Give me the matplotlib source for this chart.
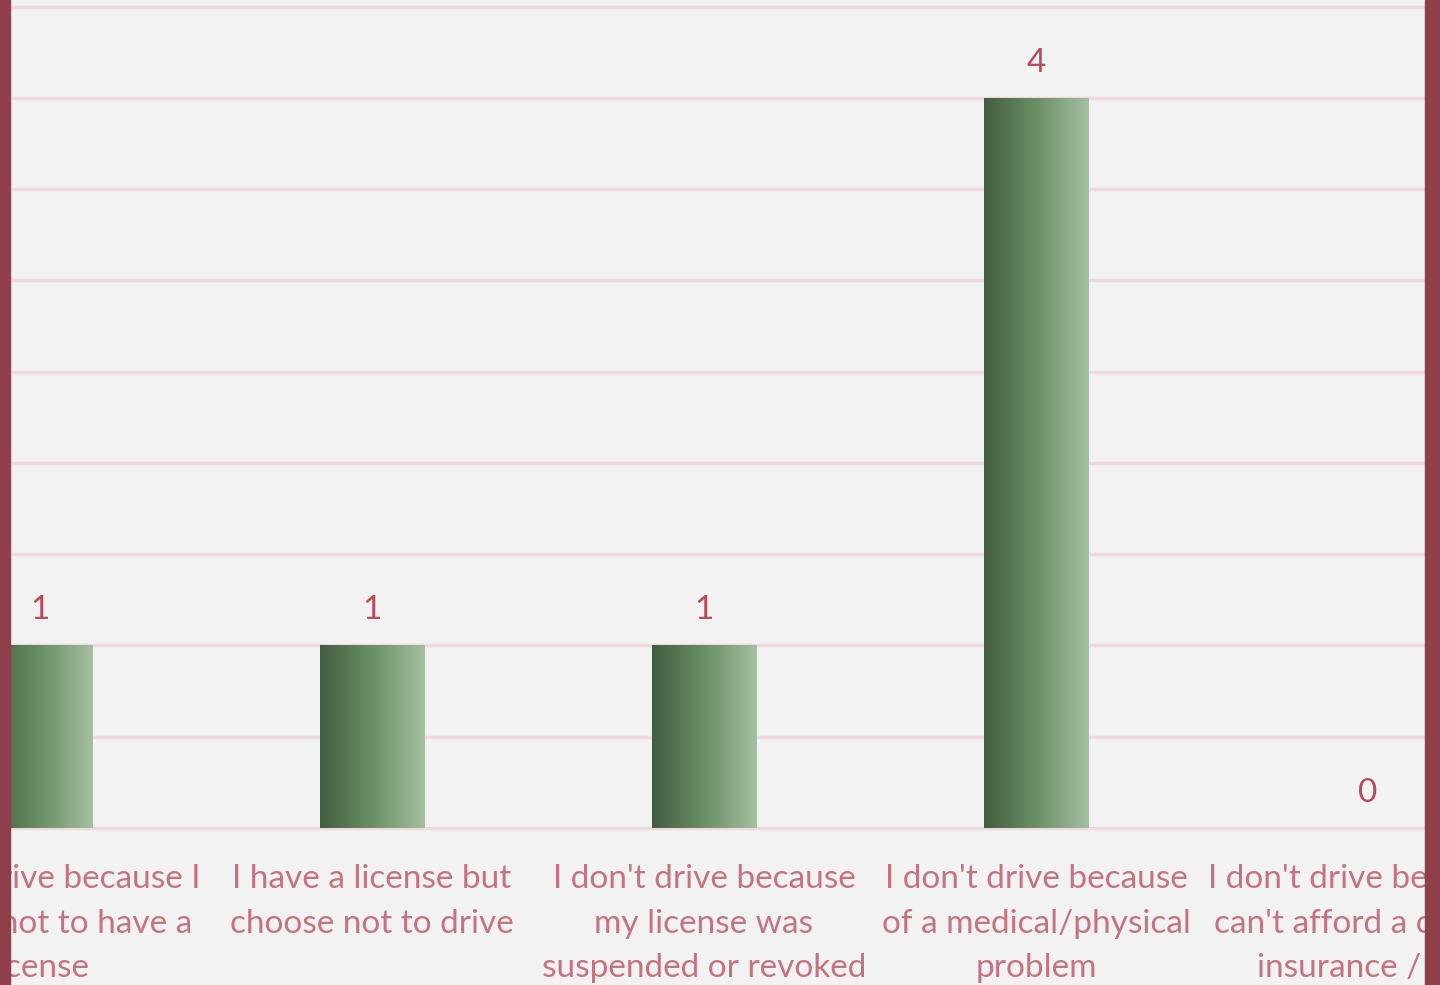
import matplotlib
matplotlib.use("Agg")
import matplotlib.pyplot as plt
import numpy as np
from matplotlib.colors import LinearSegmentedColormap
from matplotlib.patches import Rectangle

# categories (wrapped as in the chart) and counts
categories = [
    "I don't drive because I\nchoose not to have a\nlicense",
    "I have a license but\nchoose not to drive",
    "I don't drive because\nmy license was\nsuspended or revoked",
    "I don't drive because\nof a medical/physical\nproblem",
    "I don't drive because I\ncan't afford a car and\ninsurance / gas",
]
counts = [1, 1, 1, 4, 0]
grid_steps = np.arange(0, 5.0, 0.5)

bg = "#f2f2f2"
border = "#8e3f49"
label_col = "#c47481"
value_col = "#b64b5b"
grid_col = "#f0d9dd"
green = LinearSegmentedColormap.from_list(
    "g", ["#425c3f", "#6a9065", "#a5bfa1"])

plt.rcParams["font.family"] = ["Lato", "DejaVu Sans"]

fig = plt.figure(figsize=(14.4, 9.85), dpi=100)
fig.patch.set_facecolor(bg)
ax = fig.add_axes([0, 0.1594, 1, 0.8406])
ax.set_facecolor(bg)

x = np.arange(len(categories))
bars = ax.bar(x, counts, width=0.316, facecolor="none", edgecolor="none", zorder=3)

grad = np.linspace(0, 1, 256).reshape(1, -1)
for b, v in zip(bars, counts):
    if v > 0:
        x0, y0 = b.get_x(), b.get_y()
        im = ax.imshow(grad, cmap=green, aspect="auto", zorder=3,
                       extent=[x0, x0 + b.get_width(), y0, y0 + b.get_height()])
        im.set_clip_path(b)
    ax.text(b.get_x() + b.get_width() / 2, v + 0.11, str(v), ha="center",
            va="bottom", fontsize=24, color=value_col)

for g in grid_steps:
    ax.axhline(g, color=grid_col, lw=2.5, zorder=1, clip_on=False)

ax.set_xlim(-40 / 332, 1400 / 332)
ax.set_ylim(0, 828 / 182.5)
ax.set_xticks(x)
ax.set_xticklabels(categories, fontsize=24, color=label_col, linespacing=1.6)
ax.tick_params(axis="x", length=0, pad=26)
ax.set_yticks([])
for s in ax.spines.values():
    s.set_visible(False)

# dark red frame edges
fig.patches.append(Rectangle((0, 0), 10 / 1440, 1, transform=fig.transFigure,
                             color=border, zorder=10))
fig.patches.append(Rectangle((1425 / 1440, 0), 15 / 1440, 1,
                             transform=fig.transFigure, color=border, zorder=10))

fig.savefig("out.png", dpi=100, facecolor=bg)
